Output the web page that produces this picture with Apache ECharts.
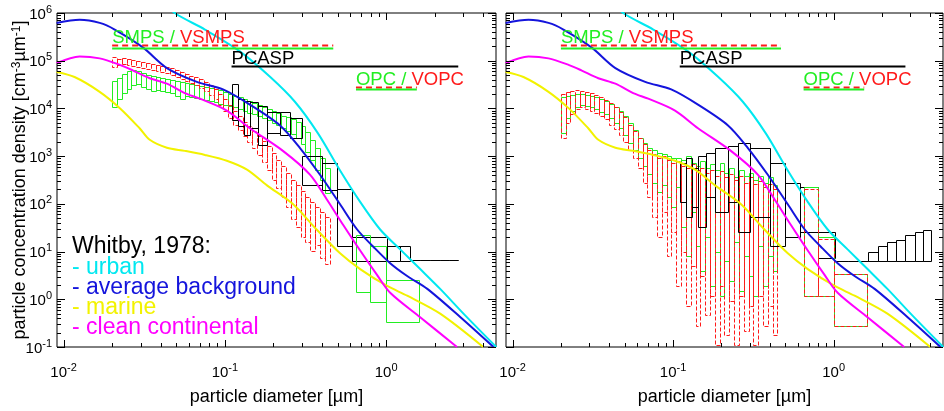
<!DOCTYPE html>
<html>
<head>
<meta charset="utf-8">
<script src="https://cdn.jsdelivr.net/npm/echarts@6/dist/echarts.min.js"></script>
<style>
  html, body { margin: 0; padding: 0; background: #fff; }
  #chart { width: 944px; height: 411px; }
</style>
</head>
<body>
<div id="chart"></div>
<script>
const FONT = '"Liberation Sans", Arial, Helvetica, sans-serif';
const D_MIN = 0.0091, D_MAX = 4.8, V_MIN = 0.1, V_MAX = 1e6;

// Whitby (1978) model number size distributions, diameter [µm] / dN/dD [cm^-3 µm^-1]
const urbanD = [0.0395, 0.0489, 0.0752, 0.1238, 0.1905, 0.2718, 0.378, 0.518, 0.690, 0.918, 1.222, 1.626, 2.163, 3.09, 4.82];
const urbanN = [2.0e6, 1.0e6, 4.5e5, 1.57e5, 4.6e4, 1.38e4, 3.0e3, 500, 110, 29, 11.1, 4.3, 1.65, 0.46, 0.1];
const backgroundD = [0.00905, 0.01257, 0.01674, 0.02074, 0.0310, 0.0437, 0.0670, 0.0973, 0.1429, 0.2198, 0.2924, 0.389, 0.518, 0.661, 0.830, 1.059, 1.35, 1.80, 2.89, 4.63];
const backgroundN = [6.2e5, 7.2e5, 6.2e5, 4.5e5, 1.9e5, 7.0e4, 3.6e4, 2.5e4, 1.2e4, 4.4e3, 1.48e3, 407, 98, 29, 12.8, 5.7, 3.07, 1.65, 0.42, 0.1];
const marineD = [0.00905, 0.01169, 0.01674, 0.0225, 0.0296, 0.0342, 0.0437, 0.0564, 0.0752, 0.1028, 0.1371, 0.1824, 0.264, 0.372, 0.518, 0.690, 1.015, 1.35, 2.163, 4.0];
const marineN = [5.8e4, 4.55e4, 2.23e4, 9.9e3, 3.84e3, 2.2e3, 1.5e3, 1.29e3, 1.06e3, 800, 521, 244, 99, 28.6, 9.2, 4.3, 1.9, 1.19, 0.5, 0.1];
const continentalD = [0.00905, 0.01257, 0.01674, 0.0225, 0.0268, 0.0342, 0.0437, 0.0564, 0.0700, 0.1028, 0.1429, 0.229, 0.337, 0.428, 0.542, 0.690, 0.880, 1.059, 1.626, 2.75];
const continentalN = [8.9e4, 1.23e5, 1.12e5, 8.1e4, 6.3e4, 4.3e4, 3.3e4, 2.1e4, 1.6e4, 9.0e3, 3.84e3, 1.29e3, 411, 125, 36, 10.5, 3.2, 1.37, 0.42, 0.1];

// SMPS / VSMPS channel boundaries [µm]
const smpsEdges = [0.01995, 0.02138, 0.02291, 0.02455, 0.02630, 0.02818, 0.03020, 0.03236, 0.03467, 0.03715,
  0.03981, 0.04266, 0.04571, 0.04898, 0.05248, 0.05623, 0.06026, 0.06457, 0.06918, 0.07413,
  0.07943, 0.08511, 0.09120, 0.09772, 0.1047, 0.1122, 0.1202, 0.1288, 0.1380, 0.1479,
  0.1585, 0.1698, 0.1820, 0.1950, 0.2089, 0.2239, 0.2399, 0.2570, 0.2754, 0.2951,
  0.3162, 0.3388, 0.3631, 0.3890, 0.4169, 0.4467];
// PCASP and OPC channel boundaries [µm]
const pcaspEdges = [0.1105, 0.1205, 0.1312, 0.1429, 0.1603, 0.1824, 0.2198, 0.2535, 0.3009, 0.3998,
  0.4966, 0.6151, 0.7962, 1.015, 1.222, 1.41, 1.627, 1.876, 2.164, 2.462, 2.80, 3.2, 3.6, 4.05];
const opcEdges = [0.651, 0.796, 1.0, 1.603];

// Left panel: upper / lower bound per channel (null = no counts)
const leftSmpsHi = [3.8e4, 4.3e4, 5.2e4, 6.0e4, 6.3e4, 6.0e4, 5.5e4, 5.0e4, 4.8e4, 4.5e4, 4.3e4, 4.1e4, 3.9e4, 3.8e4, 3.6e4,
  3.4e4, 3.3e4, 3.1e4, 3.0e4, 2.8e4, 2.7e4, 2.6e4, 2.45e4, 2.2e4, 2.0e4, 1.84e4, 1.76e4, 1.6e4, 1.45e4, 1.32e4,
  1.2e4, 1.09e4, 9.9e3, 9.0e3, 8.2e3, 7.1e3, 6.5e3, 5.9e3, 5.1e3, 4.2e3, 3.2e3, 2.2e3, 1.48e3, 920, 570];
const leftSmpsLo = [1.09e4, 1.6e4, 2.1e4, 2.6e4, 3.1e4, 3.3e4, 2.8e4, 2.6e4, 2.3e4, 2.45e4, 2.3e4, 2.2e4, 2.1e4, 1.84e4, 1.6e4,
  1.84e4, 1.76e4, 1.68e4, 1.6e4, 1.52e4, 1.45e4, 1.38e4, 1.26e4, 1.2e4, 1.15e4, 1.09e4, 9.9e3, 9.0e3, 8.2e3, 7.5e3,
  6.8e3, 6.2e3, 5.6e3, 4.9e3, 4.4e3, 3.8e3, 3.3e3, 2.9e3, 2.4e3, 1.8e3, 1.22e3, 840, 520, 320, 166];
const leftVsmpsHi = [1.17e5, 1.07e5, 1.12e5, 1.07e5, 1.02e5, 9.7e4, 9.3e4, 8.8e4, 8.4e4, 8.0e4, 7.7e4, 7.3e4, 7.0e4, 6.3e4, 5.8e4,
  5.2e4, 4.8e4, 4.5e4, 4.1e4, 3.6e4, 3.1e4, 2.6e4, 2.0e4, 1.6e4, 1.2e4, 9.0e3, 6.8e3, 5.3e3, 4.2e3, 3.3e3,
  2.6e3, 2.07e3, 1.63e3, 1.17e3, 840, 630, 450, 320, 243, 183, 137, 108, 85, 67, 53];
const leftVsmpsLo = [7.3e4, 8.0e4, 8.4e4, 8.0e4, 7.7e4, 7.3e4, 7.0e4, 6.7e4, 6.3e4, 6.0e4, 5.8e4, 5.5e4, 5.0e4, 4.5e4, 4.1e4,
  3.8e4, 3.4e4, 3.1e4, 2.7e4, 2.3e4, 1.93e4, 1.6e4, 1.2e4, 9.0e3, 6.2e3, 4.6e3, 3.5e3, 2.6e3, 2.0e3, 1.48e3,
  1.06e3, 760, 520, 320, 220, 137, 85, 48, 33, 20.5, 15.5, 10.1, 14, 7.2, 5.4];
const leftPcaspHi = [3.3e4, 1.6e4, 1.45e4, 1.38e4, 1.15e4, 8.6e3, 8.6e3, 6.2e3, 1.0e3, 730, 201, 20.5, 20.5, 13.4, 12.8, 6.6, 6.6, 6.6, 6.6, 6.6, null, null, null];
const leftPcaspLo = [5.6e3, 4.2e3, 2.75e3, 3.8e3, 1.7e3, 3.0e3, 2.75e3, 2.4e3, 243, 192, 12.8, 6.3, 6.3, 6.3, 6.3, 6.6, 6.6, 6.6, 6.6, 6.6, null, null, null];
const leftOpcHi = [22.6, 13.4, 2.5];
const leftOpcLo = [1.43, 0.89, 0.33];

// Right panel: upper / lower bound per channel
const rightSmpsHi = [1.75e4, 1.84e4, 1.93e4, 2.0e4, 2.0e4, 1.93e4, 1.84e4, 1.75e4, 1.6e4, 1.45e4, 1.26e4, 1.09e4, 9.0e3, 6.8e3, 4.9e3,
  3.5e3, 2.4e3, 1.88e3, 1.48e3, 1.35e3, 1.17e3, 1.11e3, 1.01e3, 920, 920, 840, 1.01e3, 730, 630, 800,
  570, 690, 520, 730, 450, 570, 360, 520, 390, 450, 320, 390, 280, 360, 243];
const rightSmpsLo = [3.0e3, 6.2e3, 9.0e3, 1.09e4, 1.2e4, 1.15e4, 1.09e4, 9.9e3, 8.6e3, 7.5e3, 6.2e3, 4.9e3, 3.8e3, 2.75e3, 1.88e3,
  1.35e3, 920, 630, 430, 280, 175, 243, 137, 85, 221, 33, 7.9, 67, 12.8, 3.9,
  20.5, 1.9, 10, 1.19, 6.3, 2.4, 16, 1.5, 7.9, 3.1, 1.19, 12.8, 1.9, 7.9, 3.9];
const rightVsmpsHi = [2.0e4, 2.2e4, 2.3e4, 2.45e4, 2.3e4, 2.2e4, 2.1e4, 1.93e4, 1.75e4, 1.52e4, 1.32e4, 1.09e4, 8.6e3, 6.5e3, 4.6e3,
  3.3e3, 2.4e3, 1.8e3, 1.35e3, 1.11e3, 920, 1.01e3, 840, 730, 800, 630, 570, 690, 520, 570,
  450, 520, 390, 490, 360, 430, 320, 390, 280, 360, 267, 300, 221, 267, 200];
const rightVsmpsLo = [2.4e3, 4.9e3, 7.8e3, 9.9e3, 1.09e4, 9.9e3, 9.0e3, 8.2e3, 7.1e3, 5.9e3, 4.6e3, 3.66e3, 2.75e3, 2.0e3, 1.35e3,
  920, 570, 280, 137, 53, 20.5, 67, 7.9, 26, 1.9, 10, 0.74, 4.9, 0.28, 3.1,
  0.46, 1.19, 0.11, 1.9, 0.18, 0.94, 0.11, 1.19, 0.22, 0.74, 0.11, 1.19, 0.28, 0.74, 0.18];
const rightPcaspHi = [730, 920, 570, 1.01e3, 1.17e3, 1.48e3, 1.63e3, 1.88e3, 1.48e3, 730, 280, 221, 26, 6.3, 6.3, 6.3, 10, 12.8, 16, 17.6, 22.5, 26, 29];
const rightPcaspLo = [108, 53, 85, 33, 137, 67, 108, 26, 53, 12.8, 20.5, 26, 7.2, 6.3, 6.3, 6.3, 6.3, 6.3, 6.3, 6.3, 6.3, 6.3, 6.3];
const rightOpcHi = [221, 20.5, 3.4];
const rightOpcLo = [1.19, 1.2, 0.27];
const rightVopcHi = [200, 18, 3.4];
const rightVopcLo = [1.19, 1.2, 0.27];

// Instrument size ranges shown as bars: [from µm, to µm], and bar levels
const smpsRange = [0.02, 0.47];
const pcaspRange = [0.11, 2.8];
const opcRange = [0.65, 1.55];
const rangeLevels = { vsmps: 2.1e5, smps: 1.85e5, pcasp: 7.7e4, vopc: 2.8e4, opc: 2.5e4 };

const COL = {
  urban: '#00e8f0', background: '#1414dc', marine: '#f2f200', continental: '#ff00ff',
  green: '#22ee22', red: '#ff1a1a', black: '#000000'
};

function boxes(edges, hi, lo) {
  const out = [];
  hi.forEach((h, i) => { if (h != null) out.push([edges[i], edges[i + 1], lo[i], h]); });
  return out;
}

function boxSeries(grid, name, data, color, dashed) {
  return {
    type: 'custom', name, xAxisIndex: grid, yAxisIndex: grid, clip: true, silent: true,
    encode: { x: [0, 1], y: [2, 3] },
    data,
    renderItem(params, api) {
      const a = api.coord([api.value(0), api.value(3)]);
      const b = api.coord([api.value(1), api.value(2)]);
      const x1 = Math.round(a[0]) + 0.5, x2 = Math.round(b[0]) + 0.5;
      const y1 = Math.round(a[1]) + 0.5, y2 = Math.round(b[1]) + 0.5;
      return {
        type: 'rect',
        shape: { x: x1, y: y1, width: x2 - x1, height: y2 - y1 },
        style: { fill: 'none', stroke: color, lineWidth: 1, lineDash: dashed ? [4, 2] : null }
      };
    }
  };
}

function curve(grid, d, n, color) {
  return {
    type: 'line', xAxisIndex: grid, yAxisIndex: grid, data: d.map((x, i) => [x, n[i]]),
    showSymbol: false, smooth: 0.3, clip: true, silent: true, z: 3,
    lineStyle: { color, width: 2 }
  };
}

// instrument range bars with their names
function rangeSeries(grid) {
  const items = [
    [smpsRange[0], smpsRange[1], rangeLevels.vsmps, 0],
    [smpsRange[0], smpsRange[1], rangeLevels.smps, 1],
    [pcaspRange[0], pcaspRange[1], rangeLevels.pcasp, 2],
    [opcRange[0], opcRange[1], rangeLevels.vopc, 3],
    [opcRange[0], opcRange[1], rangeLevels.opc, 4]
  ];
  const styles = [
    { stroke: COL.red, lineDash: [6, 4] },
    { stroke: COL.green },
    { stroke: COL.black },
    { stroke: COL.red, lineDash: [6, 4] },
    { stroke: COL.green }
  ];
  const labels = {
    0: '{g|SMPS / }{r|VSMPS}',
    2: '{k|PCASP}',
    3: '{g|OPC / }{r|VOPC}'
  };
  return {
    type: 'custom', xAxisIndex: grid, yAxisIndex: grid, silent: true, z: 5,
    encode: { x: [0, 1], y: 2 },
    data: items,
    renderItem(params, api) {
      const k = api.value(3);
      const a = api.coord([api.value(0), api.value(2)]);
      const b = api.coord([api.value(1), api.value(2)]);
      const y = Math.round(a[1]) + 0.5;
      const children = [{
        type: 'line', shape: { x1: a[0], y1: y, x2: b[0], y2: y },
        style: Object.assign({ lineWidth: 2 }, styles[k])
      }];
      if (labels[k]) {
        children.push({
          type: 'text', x: a[0], y: y + 2,
          style: {
            text: labels[k], align: 'left', verticalAlign: 'bottom',
            rich: {
              g: { fill: COL.green, font: '18.5px ' + FONT },
              r: { fill: COL.red, font: '18.5px ' + FONT },
              k: { fill: COL.black, font: '18.5px ' + FONT }
            }
          }
        });
      }
      return { type: 'group', children };
    }
  };
}

// tick marks on all four sides (2..9 minor ticks per decade)
function tickSeries(grid) {
  const xt = [], yt = [];
  [0.01, 0.1, 1].forEach(dec => {
    xt.push([dec, V_MIN, 1]);
    for (let m = 2; m <= 9; m++) if (m * dec < D_MAX) xt.push([m * dec, V_MIN, 0]);
  });
  for (let e = -1; e <= 6; e++) {
    const dec = Math.pow(10, e);
    yt.push([D_MIN, dec, 1]);
    if (e < 6) for (let m = 2; m <= 9; m++) yt.push([D_MIN, m * dec, 0]);
  }
  const line = (x1, y1, x2, y2) => ({ type: 'line', shape: { x1, y1, x2, y2 }, style: { stroke: '#000', lineWidth: 1 } });
  return [{
    type: 'custom', xAxisIndex: grid, yAxisIndex: grid, silent: true, z: 6,
    encode: { x: 0, y: 1 }, data: xt,
    renderItem(params, api) {
      const b = api.coord([api.value(0), V_MIN]), t = api.coord([api.value(0), V_MAX]);
      const len = api.value(2) ? 7 : 4, x = Math.round(b[0]) + 0.5;
      return { type: 'group', children: [line(x, b[1], x, b[1] - len), line(x, t[1], x, t[1] + len)] };
    }
  }, {
    type: 'custom', xAxisIndex: grid, yAxisIndex: grid, silent: true, z: 6,
    encode: { x: 0, y: 1 }, data: yt,
    renderItem(params, api) {
      const l = api.coord([D_MIN, api.value(1)]), r = api.coord([D_MAX, api.value(1)]);
      const len = api.value(2) ? 8 : 4, y = Math.round(l[1]) + 0.5;
      return { type: 'group', children: [line(l[0], y, l[0] + len, y), line(r[0], y, r[0] - len, y)] };
    }
  }];
}

const expRich = {
  b: { fontSize: 15, fontFamily: FONT, color: '#000', lineHeight: 18, verticalAlign: 'bottom' },
  s: { fontSize: 11, fontFamily: FONT, color: '#000', lineHeight: 11, verticalAlign: 'top' }
};
function expLabel(v) {
  const e = Math.log10(v), r = Math.round(e);
  return Math.abs(e - r) < 1e-6 ? '{b|10}{s|' + r + '}' : '';
}

function xAxis(grid) {
  return {
    type: 'log', gridIndex: grid, min: D_MIN, max: D_MAX, logBase: 10, splitNumber: 3,
    axisLine: { show: false }, axisTick: { show: false }, splitLine: { show: false },
    axisLabel: { formatter: expLabel, rich: expRich, margin: 15, showMinLabel: false, showMaxLabel: false },
    name: 'particle diameter [µm]', nameLocation: 'middle', nameGap: 41,
    nameTextStyle: { fontFamily: FONT, fontSize: 18, color: '#000' }
  };
}
function yAxis(grid, labels) {
  return {
    type: 'log', gridIndex: grid, min: V_MIN, max: V_MAX, logBase: 10, splitNumber: 7,
    axisLine: { show: false }, axisTick: { show: false }, splitLine: { show: false },
    axisLabel: { show: labels, formatter: expLabel, rich: expRich, margin: 5 }
  };
}

function panel(grid, d) {
  return [
    boxSeries(grid, 'SMPS', boxes(smpsEdges, d.smpsHi, d.smpsLo), COL.green, false),
    boxSeries(grid, 'VSMPS', boxes(smpsEdges, d.vsmpsHi, d.vsmpsLo), COL.red, true),
    boxSeries(grid, 'PCASP', boxes(pcaspEdges, d.pcaspHi, d.pcaspLo), COL.black, false),
    boxSeries(grid, 'OPC', boxes(opcEdges, d.opcHi, d.opcLo), COL.green, false),
    d.vopcHi ? boxSeries(grid, 'VOPC', boxes(opcEdges, d.vopcHi, d.vopcLo), COL.red, true) : null,
    curve(grid, urbanD, urbanN, COL.urban),
    curve(grid, backgroundD, backgroundN, COL.background),
    curve(grid, marineD, marineN, COL.marine),
    curve(grid, continentalD, continentalN, COL.continental),
    rangeSeries(grid),
    ...tickSeries(grid)
  ].filter(Boolean);
}

const series = [
  ...panel(0, { smpsHi: leftSmpsHi, smpsLo: leftSmpsLo, vsmpsHi: leftVsmpsHi, vsmpsLo: leftVsmpsLo,
    pcaspHi: leftPcaspHi, pcaspLo: leftPcaspLo, opcHi: leftOpcHi, opcLo: leftOpcLo }),
  ...panel(1, { smpsHi: rightSmpsHi, smpsLo: rightSmpsLo, vsmpsHi: rightVsmpsHi, vsmpsLo: rightVsmpsLo,
    pcaspHi: rightPcaspHi, pcaspLo: rightPcaspLo, opcHi: rightOpcHi, opcLo: rightOpcLo,
    vopcHi: rightVopcHi, vopcLo: rightVopcLo })
];

const legendRows = [
  { text: 'Whitby, 1978:', color: '#000', y: 247 },
  { text: '- urban', color: COL.urban, y: 268 },
  { text: '- average background', color: COL.background, y: 288 },
  { text: '- marine', color: COL.marine, y: 308 },
  { text: '- clean continental', color: COL.continental, y: 328 }
];

const chart = echarts.init(document.getElementById('chart'), null, { renderer: 'canvas' });
chart.setOption({
  animation: false,
  backgroundColor: '#fff',
  grid: [
    { left: 57, right: 448, top: 13, bottom: 59, show: true, borderColor: '#000', borderWidth: 1, backgroundColor: 'transparent' },
    { left: 506, right: 1, top: 13, bottom: 59, show: true, borderColor: '#000', borderWidth: 1, backgroundColor: 'transparent' }
  ],
  xAxis: [xAxis(0), xAxis(1)],
  yAxis: [yAxis(0, true), yAxis(1, false)],
  series,
  graphic: [
    {
      type: 'text', x: 20, y: 180, rotation: Math.PI / 2, z: 10,
      style: {
        text: 'particle concentration density [cm{s|-3}µm{s|-1}]',
        font: '18px ' + FONT, fill: '#000', align: 'center', verticalAlign: 'middle',
        rich: { s: { font: '12px ' + FONT, fill: '#000', verticalAlign: 'top', lineHeight: 12 } }
      }
    },
    ...legendRows.map(r => ({
      type: 'text', x: 72, y: r.y, z: 10,
      style: { text: r.text, font: '23px ' + FONT, fill: r.color, verticalAlign: 'middle' }
    }))
  ]
});
</script>
</body>
</html>
